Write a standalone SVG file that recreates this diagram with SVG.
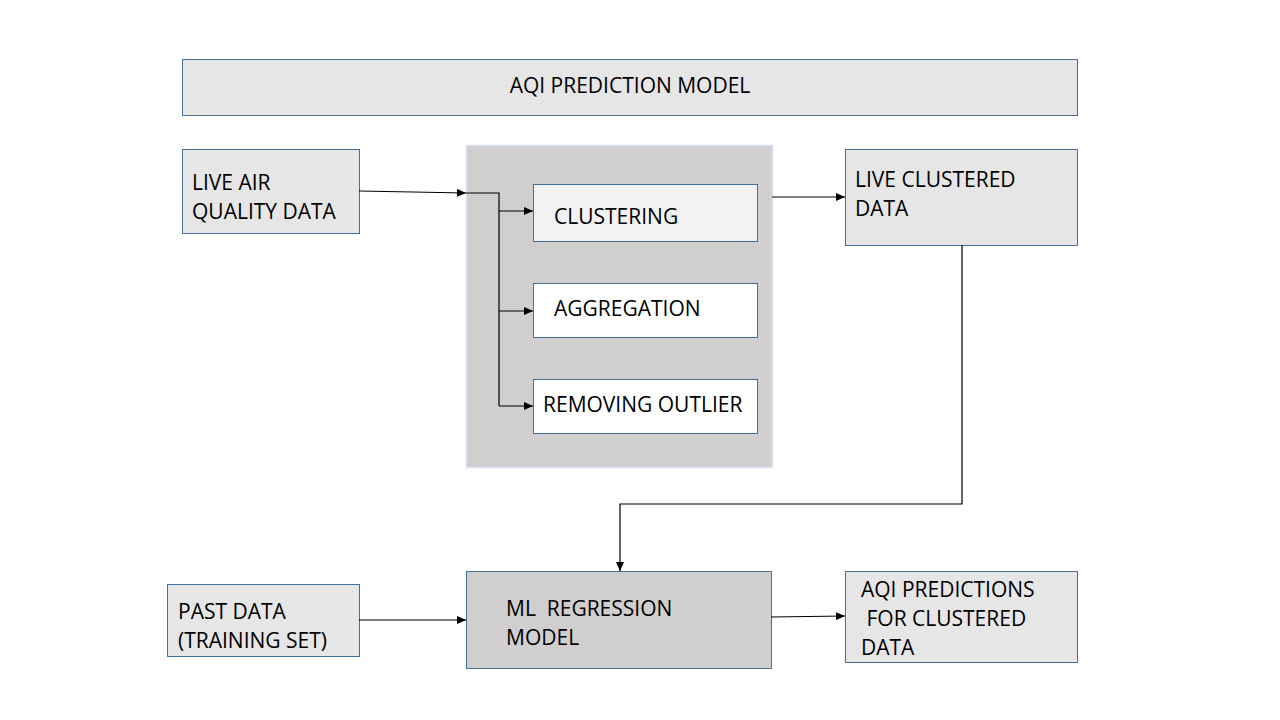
<svg xmlns="http://www.w3.org/2000/svg" width="1280" height="720" viewBox="0 0 1280 720">
<style>
.box{fill:#e6e6e6;stroke:#41719c;stroke-width:1}
.inner{stroke:#41719c;stroke-width:1}
.grey{fill:#d0cece}
.t{font-family:"Open Sans","Liberation Sans",sans-serif;font-size:21px;fill:#000}
.c{fill:none;stroke:#000;stroke-width:1.2}
</style>
<defs>
<marker id="ah" markerWidth="9" markerHeight="8" refX="9" refY="4" orient="auto" markerUnits="userSpaceOnUse">
<path d="M0,0 L9,4 L0,8 Z" fill="#000"/>
</marker>
</defs>
<rect width="1280" height="720" fill="#fff"/>
<g id="title">
<rect class="box" x="182.5" y="59.5" width="895" height="56"/>
<text class="t" x="630" y="93" text-anchor="middle">AQI PREDICTION MODEL</text>
</g>
<g id="live-air">
<rect class="box" x="182.5" y="149.5" width="177" height="84"/>
<text class="t" x="192" y="190">LIVE AIR</text>
<text class="t" x="192" y="219">QUALITY DATA</text>
</g>
<g id="processing">
<rect class="grey" x="466.5" y="145.5" width="306" height="322" stroke="#dae3f3" stroke-width="1.5"/>
</g>
<g id="clustering">
<rect class="inner" fill="#f2f2f2" x="533.5" y="184.5" width="224" height="57"/>
<text class="t" x="554" y="224">CLUSTERING</text>
</g>
<g id="aggregation">
<rect class="inner" fill="#fff" x="533.5" y="283.5" width="224" height="54"/>
<text class="t" x="554" y="316">AGGREGATION</text>
</g>
<g id="removing-outlier">
<rect class="inner" fill="#fff" x="533.5" y="379.5" width="224" height="54"/>
<text class="t" x="543" y="412">REMOVING OUTLIER</text>
</g>
<g id="live-clustered">
<rect class="box" x="845.5" y="149.5" width="232" height="96"/>
<text class="t" x="855" y="187">LIVE CLUSTERED</text>
<text class="t" x="855" y="216">DATA</text>
</g>
<g id="ml-model">
<rect class="grey" x="466.5" y="571.5" width="305" height="97" stroke="#41719c" stroke-width="1"/>
<text class="t" x="506" y="616" xml:space="preserve">ML  REGRESSION</text>
<text class="t" x="506" y="645">MODEL</text>
</g>
<g id="past-data">
<rect class="box" x="167.5" y="584.5" width="192" height="72"/>
<text class="t" x="178" y="619">PAST DATA</text>
<text class="t" x="178" y="648">(TRAINING SET)</text>
</g>
<g id="aqi-predictions">
<rect class="box" x="845.5" y="571.5" width="232" height="91"/>
<text class="t" x="861" y="597">AQI PREDICTIONS</text>
<text class="t" x="861" y="626" xml:space="preserve"> FOR CLUSTERED</text>
<text class="t" x="861" y="655">DATA</text>
</g>
<g id="connectors">
<path class="c" d="M359,191 L466,193" marker-end="url(#ah)"/>
<path class="c" d="M466,193 L499,193 L499,406"/>
<path class="c" d="M499,211 L533,211" marker-end="url(#ah)"/>
<path class="c" d="M499,311 L533,311" marker-end="url(#ah)"/>
<path class="c" d="M499,406 L533,406" marker-end="url(#ah)"/>
<path class="c" d="M772,197 L845,197" marker-end="url(#ah)"/>
<path class="c" d="M962,245 L962,504 L620,504 L620,571" marker-end="url(#ah)"/>
<path class="c" d="M359,620 L466,620" marker-end="url(#ah)"/>
<path class="c" d="M771,617 L845,616" marker-end="url(#ah)"/>
</g>
</svg>
